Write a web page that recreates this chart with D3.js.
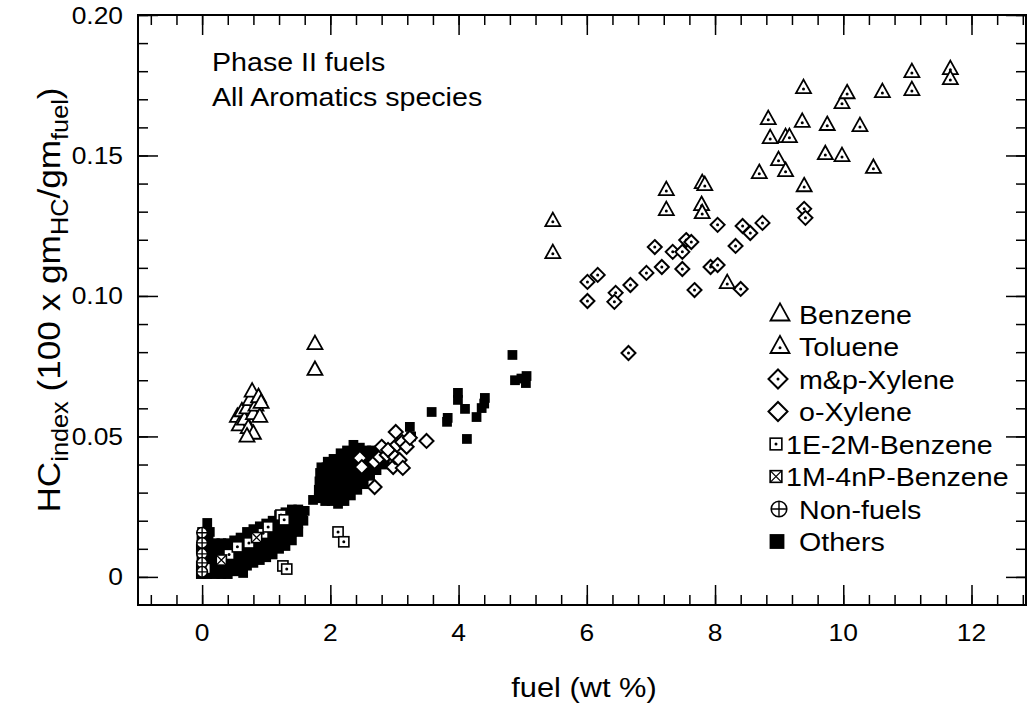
<!DOCTYPE html>
<html>
<head>
<meta charset="utf-8">
<script src="https://cdn.jsdelivr.net/npm/d3@7"></script>
<style>
  html, body { margin: 0; padding: 0; background: #fff; }
  svg { display: block; font-family: "Liberation Sans", Arial, Helvetica, sans-serif; }
</style>
</head>
<body>
<svg id="chart" width="1029" height="706"></svg>
<script>
// fuel (wt %) vs HC index, one [x, y] pair per measurement
const benzene = [
  [0.55,0.057],[0.58,0.054],[0.62,0.059],[0.66,0.056],[0.70,0.060],[0.72,0.053],
  [0.75,0.063],[0.78,0.066],[0.80,0.058],[0.84,0.061],[0.88,0.064],[0.90,0.057],
  [0.80,0.051],[0.70,0.050],[0.92,0.062],
  [1.76,0.0829],[1.76,0.0737]
];
const toluene = [
  [5.47,0.1267],[5.47,0.1153],
  [7.24,0.1377],[7.24,0.1306],[7.80,0.1402],[7.84,0.1395],[7.79,0.1324],[7.80,0.1295],
  [8.19,0.1046],[8.69,0.1438],[8.83,0.1630],[8.86,0.1562],[8.99,0.1484],[9.10,0.1566],
  [9.16,0.1566],[9.10,0.1445],[9.36,0.1620],[9.38,0.1740],[9.39,0.1391],[9.72,0.1505],
  [9.75,0.1609],[9.98,0.1687],[9.98,0.1498],[10.06,0.1722],[10.26,0.1605],[10.47,0.1456],
  [10.61,0.1726],[11.07,0.1797],[11.07,0.1733],[11.67,0.1808],[11.67,0.1772]
];
const mpXylene = [
  [6.01,0.1050],[6.17,0.1075],[6.01,0.0982],[6.45,0.1011],[6.43,0.0979],[6.68,0.1039],
  [6.65,0.0797],[6.93,0.1082],[7.06,0.1174],[7.17,0.1103],[7.34,0.1157],[7.49,0.1157],
  [7.49,0.1096],[7.55,0.1199],[7.63,0.1192],[7.68,0.1021],[7.93,0.1103],[8.04,0.1110],
  [8.04,0.1253],[8.32,0.1178],[8.40,0.1025],[8.43,0.1249],[8.55,0.1224],[8.74,0.1260],
  [9.39,0.1310],[9.41,0.1278]
];
const oXylene = [
  [2.46,0.0423],[2.49,0.0391],[2.69,0.0409],[2.69,0.0320],[2.77,0.0427],[2.80,0.0463],
  [2.88,0.0434],[2.90,0.0452],[2.98,0.0391],[3.01,0.0427],[3.02,0.0516],[3.04,0.0470],
  [3.08,0.0416],[3.12,0.0480],[3.13,0.0388],[3.19,0.0463],[3.24,0.0495],[3.50,0.0484]
];
const e2mBenzene = [
  [0.05,0.0030],[0.42,0.0080],[0.55,0.0107],[0.73,0.0121],[0.95,0.0155],[1.03,0.0178],
  [1.23,0.0220],[1.28,0.0203],[1.26,0.0039],[1.32,0.0028],[2.12,0.0160],[2.21,0.0125]
];
const m4npBenzene = [
  [0.30,0.0060],[0.85,0.0140]
];
const nonFuels = [
  [0.0,0.0157],[0.0,0.0121],[0.0,0.0082],[0.0,0.0050],[0.0,0.0018]
];
const others = [
  // strip at the origin
  [-0.02,0.001],[-0.02,0.004],[-0.01,0.007],[-0.02,0.010],[-0.01,0.013],[0.00,0.016],[0.08,0.0192],
  [0.08,0.001],[0.10,0.004],[0.09,0.007],[0.10,0.010],[0.10,0.013],[0.12,0.016],
  // low band
  [0.20,0.001],[0.20,0.004],[0.20,0.007],[0.20,0.010],[0.20,0.012],
  [0.30,0.001],[0.30,0.004],[0.30,0.007],[0.30,0.010],[0.30,0.012],
  [0.40,0.001],[0.40,0.004],[0.40,0.007],[0.40,0.010],[0.40,0.012],
  [0.50,0.002],[0.50,0.005],[0.50,0.008],[0.50,0.011],[0.50,0.013],
  [0.64,0.0014],
  [0.60,0.004],[0.60,0.007],[0.60,0.010],[0.60,0.013],[0.60,0.014],
  [0.70,0.004],[0.70,0.007],[0.70,0.010],[0.70,0.013],[0.70,0.016],
  [0.80,0.005],[0.80,0.008],[0.80,0.011],[0.80,0.014],[0.80,0.017],
  [0.90,0.006],[0.90,0.009],[0.90,0.012],[0.90,0.015],[0.90,0.018],
  [1.00,0.007],[1.00,0.010],[1.00,0.013],[1.00,0.016],[1.00,0.019],
  [1.10,0.008],[1.10,0.011],[1.10,0.014],[1.10,0.017],[1.10,0.020],
  [1.20,0.010],[1.20,0.013],[1.20,0.016],[1.20,0.019],[1.20,0.022],
  [1.30,0.011],[1.30,0.014],[1.30,0.017],[1.30,0.020],[1.30,0.023],
  [1.40,0.013],[1.40,0.016],[1.40,0.019],[1.40,0.022],[1.40,0.024],
  [1.50,0.016],[1.50,0.019],[1.50,0.022],[1.50,0.024],
  [1.58,0.020],[1.60,0.0235],[1.56,0.0228],[1.73,0.0274],
  // middle mass
  [1.82,0.028],[1.82,0.031],[1.83,0.034],[1.84,0.037],[1.86,0.039],
  [1.92,0.027],[1.92,0.030],[1.92,0.033],[1.93,0.036],[1.94,0.039],[1.96,0.041],
  [2.02,0.027],[2.02,0.030],[2.02,0.033],[2.03,0.036],[2.04,0.039],[2.05,0.042],
  [2.12,0.026],[2.12,0.029],[2.12,0.032],[2.13,0.035],[2.14,0.038],[2.15,0.041],[2.16,0.044],
  [2.22,0.027],[2.22,0.030],[2.22,0.033],[2.23,0.036],[2.24,0.039],[2.25,0.042],[2.26,0.045],
  [2.32,0.029],[2.32,0.032],[2.33,0.035],[2.34,0.038],[2.35,0.041],[2.36,0.044],[2.36,0.047],
  [2.42,0.031],[2.42,0.034],[2.43,0.037],[2.44,0.040],[2.45,0.043],[2.46,0.046],
  [2.52,0.033],[2.53,0.036],[2.54,0.039],[2.55,0.042],[2.56,0.045],
  [2.62,0.036],[2.63,0.039],[2.64,0.042],[2.65,0.045],
  [2.72,0.038],[2.74,0.041],[2.76,0.044],[2.85,0.040],[2.92,0.044],
  [3.24,0.0534],[3.26,0.0500],
  // upper run
  [3.58,0.0587],[3.82,0.0552],[3.83,0.0566],[3.99,0.0655],[3.99,0.0630],[4.10,0.0598],
  [4.13,0.0491],[4.28,0.0569],[4.36,0.0601],[4.40,0.0617],[4.41,0.0637],
  [4.84,0.0790],[4.88,0.0700],[4.98,0.0706],[5.06,0.0715],[5.05,0.0690]
];

const xTickValues = [0, 2, 4, 6, 8, 10, 12];
const yTickValues = [0, 0.05, 0.10, 0.15, 0.20];
const yTickLabels = ["0", "0.05", "0.10", "0.15", "0.20"];

const legendItems = [
  { label: "Benzene", kind: "triangle", dot: false },
  { label: "Toluene", kind: "triangle", dot: true },
  { label: "m&p-Xylene", kind: "diamond", dot: true },
  { label: "o-Xylene", kind: "diamond", dot: false },
  { label: "1E-2M-Benzene", kind: "square", dot: true },
  { label: "1M-4nP-Benzene", kind: "squareX", dot: false },
  { label: "Non-fuels", kind: "plus", dot: false },
  { label: "Others", kind: "filled", dot: false }
];

const svg = d3.select("#chart");
const plotLeft = 138, plotRight = 1026, plotTop = 15, plotBottom = 605;
const stretch = 1.1; // lettering is slightly wide

const x = d3.scaleLinear().domain([-1, 12.85]).range([plotLeft, plotRight]);
const y = d3.scaleLinear().domain([-0.01, 0.20]).range([plotBottom, plotTop]);

// text with a horizontal stretch about its anchor point
function wideText(parent, tx, ty, size, anchor, str) {
  return parent.append("text")
    .attr("transform", `translate(${tx},${ty}) scale(${stretch},1)`)
    .attr("text-anchor", anchor).attr("font-size", size).text(str);
}

// marker drawing helpers
function drawMarker(g, kind, dot, s) {
  const h = s / 2;
  if (kind === "triangle") {
    const th = s * 0.9;
    g.append("path")
      .attr("d", `M0,${-th * 0.62}L${h},${th * 0.38}L${-h},${th * 0.38}Z`)
      .attr("fill", "#fff").attr("stroke", "#000").attr("stroke-width", 1.8)
      .attr("stroke-linejoin", "miter");
  } else if (kind === "diamond") {
    g.append("path")
      .attr("d", `M0,${-h}L${h},0L0,${h}L${-h},0Z`)
      .attr("fill", "#fff").attr("stroke", "#000").attr("stroke-width", 2);
  } else if (kind === "square" || kind === "squareX") {
    const q = h * 0.78;
    g.append("rect").attr("x", -q).attr("y", -q).attr("width", 2 * q).attr("height", 2 * q)
      .attr("fill", "#fff").attr("stroke", "#000").attr("stroke-width", 1.6);
    if (kind === "squareX") {
      g.append("path").attr("d", `M${-q},${-q}L${q},${q}M${q},${-q}L${-q},${q}`)
        .attr("stroke", "#000").attr("stroke-width", 1.3);
    }
  } else if (kind === "plus") {
    const r = h * 0.82;
    g.append("circle").attr("r", r).attr("fill", "#fff").attr("stroke", "#000").attr("stroke-width", 1.6);
    g.append("path").attr("d", `M${-r},0L${r},0M0,${-r}L0,${r}`)
      .attr("stroke", "#000").attr("stroke-width", 1.4);
  } else if (kind === "filled") {
    const q = h * 0.78;
    g.append("rect").attr("x", -q).attr("y", -q).attr("width", 2 * q).attr("height", 2 * q)
      .attr("fill", "#000");
  }
  if (dot) {
    g.append("circle").attr("cy", kind === "triangle" ? s * 0.06 : 0).attr("r", 1.5).attr("fill", "#000");
  }
}

function plotSeries(data, kind, dot, s) {
  const grp = svg.append("g");
  data.forEach(d => {
    const g = grp.append("g").attr("transform", `translate(${x(d[0])},${y(d[1])})`);
    drawMarker(g, kind, dot, s);
  });
}

// filled squares underneath, open symbols on top
plotSeries(others, "filled", false, 12.5);
plotSeries(oXylene, "diamond", false, 14);
plotSeries(mpXylene, "diamond", true, 14);
plotSeries(e2mBenzene, "square", true, 13);
plotSeries(m4npBenzene, "squareX", false, 13);
plotSeries(nonFuels, "plus", false, 13);
plotSeries(benzene, "triangle", false, 15);
plotSeries(toluene, "triangle", true, 15);

// axes on all four sides, ticks pointing inward
const xMinor = d3.range(-0.8, 12.81, 0.4).map(v => +v.toFixed(2));
const yMinor = d3.range(0, 0.2001, 0.01).map(v => +v.toFixed(3));
const majorLen = 20, minorLen = 10;

function axisGroup(axis, tx, ty) {
  const g = svg.append("g").attr("transform", `translate(${tx},${ty})`).call(axis);
  g.select(".domain").remove();
  g.selectAll("line").attr("stroke", "#000").attr("stroke-width", 1.5);
  return g;
}

axisGroup(d3.axisTop(x).tickValues(xMinor).tickSize(minorLen).tickFormat(""), 0, plotBottom);
axisGroup(d3.axisTop(x).tickValues(xTickValues).tickSize(majorLen).tickFormat(""), 0, plotBottom);
axisGroup(d3.axisBottom(x).tickValues(xMinor).tickSize(minorLen).tickFormat(""), 0, plotTop);
axisGroup(d3.axisBottom(x).tickValues(xTickValues).tickSize(majorLen).tickFormat(""), 0, plotTop);
axisGroup(d3.axisRight(y).tickValues(yMinor).tickSize(minorLen).tickFormat(""), plotLeft, 0);
axisGroup(d3.axisRight(y).tickValues(yTickValues).tickSize(majorLen).tickFormat(""), plotLeft, 0);
axisGroup(d3.axisLeft(y).tickValues(yMinor).tickSize(minorLen).tickFormat(""), plotRight, 0);
axisGroup(d3.axisLeft(y).tickValues(yTickValues).tickSize(majorLen).tickFormat(""), plotRight, 0);

svg.append("rect")
  .attr("x", plotLeft).attr("y", plotTop).attr("width", plotRight - plotLeft).attr("height", plotBottom - plotTop)
  .attr("fill", "none").attr("stroke", "#000").attr("stroke-width", 2);

// tick labels
const xLabels = svg.append("g");
xTickValues.forEach(v => wideText(xLabels, x(v), 641, 24, "middle", String(v)));
const yLabels = svg.append("g");
yTickValues.forEach((v, i) => wideText(yLabels, 123, y(v) + 8.5, 24, "end", yTickLabels[i]));

// axis titles
wideText(svg, 584, 697, 28, "middle", "fuel (wt %)");

const yTitle = svg.append("text")
  .attr("transform", `translate(60,300) rotate(-90) scale(${stretch},1)`)
  .attr("text-anchor", "middle").attr("font-size", 32);
yTitle.append("tspan").text("HC");
yTitle.append("tspan").attr("font-size", 23).attr("dy", 8).text("index");
yTitle.append("tspan").attr("dy", -8).text(" (100 x gm");
yTitle.append("tspan").attr("font-size", 23).attr("dy", 8).text("HC");
yTitle.append("tspan").attr("dy", -8).text("/gm");
yTitle.append("tspan").attr("font-size", 23).attr("dy", 8).text("fuel");
yTitle.append("tspan").attr("dy", -8).text(")");

// annotation
wideText(svg, 212, 71, 26, "start", "Phase II fuels");
wideText(svg, 212, 106, 26, "start", "All Aromatics species");

// legend
const legend = svg.append("g");
const legendSymbolX = { triangle: 780, diamond: 778, square: 776, squareX: 776, plus: 779, filled: 777 };
legendItems.forEach((it, i) => {
  const cy = 314 + i * 32.5;
  const g = legend.append("g").attr("transform", `translate(${legendSymbolX[it.kind]},${cy})`);
  drawMarker(g, it.kind, it.dot, it.kind === "square" || it.kind === "squareX" ? 15 : 19);
  const tx = it.kind === "square" || it.kind === "squareX" ? 786 : 799;
  wideText(legend, tx, cy + 9.5, 26, "start", it.label);
});
</script>
</body>
</html>
